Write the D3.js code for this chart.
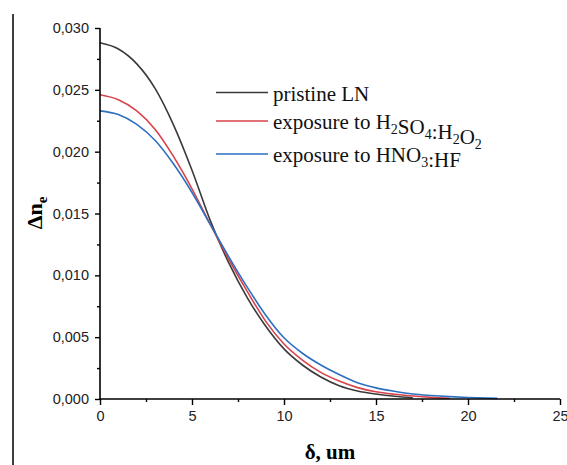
<!DOCTYPE html>
<html><head><meta charset="utf-8">
<script src="https://cdn.jsdelivr.net/npm/d3@7"></script>
<style>body{margin:0;background:#fff}svg{display:block}</style>
</head><body>
<script>
// depth δ (um) and Δn_e values
const xBlack = [0,1,2,3,4,5,6,7,8,9,10,11,12,13,14,15,16,17];
const yBlack = [0.0288,0.0283,0.0271,0.0251,0.02215,0.0185,0.0144,0.0110,0.0082,0.0059,0.00405,0.00275,0.00178,0.00108,0.00065,0.0004,0.00022,0.0001];
const xRed = [0,1,2,3,4,5,6,7,8,9,10,11,12,13,14,15,16,17,18,19];
const yRed = [0.0246,0.0242,0.0233,0.0218,0.0196,0.0170,0.0141,0.0113,0.0087,0.0063,0.00445,0.00315,0.00215,0.00145,0.00092,0.00058,0.00038,0.00024,0.00013,0.00006];
const xBlue = [0,1,2,3,4,5,6,7,8,9,10,11,12,13,14,15,16,17,18,19,20,21,21.6];
const yBlue = [0.0233,0.0230,0.0222,0.0209,0.0190,0.0167,0.0141,0.0115,0.00905,0.0068,0.00495,0.0037,0.00275,0.00198,0.00132,0.0009,0.00062,0.0004,0.00028,0.00019,0.00012,0.00007,0.00005];
const seriesNames = ["pristine LN", "exposure to H2SO4:H2O2", "exposure to HNO3:HF"];
const xTicks = [0,5,10,15,20,25];
const yTicks = [0,0.005,0.010,0.015,0.020,0.025,0.030];
const xMinor = [2.5,7.5,12.5,17.5,22.5];
const yMinor = [0.0025,0.0075,0.0125,0.0175,0.0225,0.0275];

const W = 567, H = 465;
const svg = d3.select("body").append("svg").attr("width", W).attr("height", H);
const x = d3.scaleLinear().domain([0,25]).range([100,560]);
const y = d3.scaleLinear().domain([0,0.030]).range([399,28]);

// figure border line
svg.append("line").attr("x1",13).attr("x2",13).attr("y1",14).attr("y2",465)
  .attr("stroke","#000").attr("stroke-width",1.5);

const colors = ["#3a3a3a", "#d8424b", "#2d6fc0"];
const data = [d3.zip(xBlack, yBlack), d3.zip(xRed, yRed), d3.zip(xBlue, yBlue)];
const line = d3.line().x(d=>x(d[0])).y(d=>y(d[1])).curve(d3.curveMonotoneX);
data.forEach((d,i)=>{
  svg.append("path").datum(d).attr("d", line).attr("fill","none")
    .attr("stroke", colors[i]).attr("stroke-width", 1.6);
});

const fmt = v => d3.format(".3f")(v).replace(".", ",");
const sans = "Liberation Sans, Arial, sans-serif";
const serif = "Liberation Serif, Times New Roman, serif";
// y axis
const yAxis = svg.append("g").attr("transform","translate(100,0)")
  .call(d3.axisLeft(y).tickValues(yTicks).tickFormat(fmt).tickSize(5).tickPadding(6));
svg.append("g").attr("class","minor").attr("transform","translate(100,0)")
  .call(d3.axisLeft(y).tickValues(yMinor).tickFormat("").tickSize(3))
  .select(".domain").remove();
// x axis
const xAxis = svg.append("g").attr("transform","translate(0,399)")
  .call(d3.axisBottom(x).tickValues(xTicks).tickFormat(d=>d).tickSize(6).tickPadding(6));
svg.append("g").attr("class","minor").attr("transform","translate(0,399)")
  .call(d3.axisBottom(x).tickValues(xMinor).tickFormat("").tickSize(3))
  .select(".domain").remove();

svg.selectAll(".domain").attr("stroke","#000").attr("stroke-width",1.6);
svg.selectAll(".tick line").attr("stroke","#000").attr("stroke-width",1.4);
svg.selectAll(".tick text").attr("font-family",sans)
  .attr("font-size",14.5).attr("fill","#222");
yAxis.select(".domain").attr("d","M0,399.8V28");
xAxis.select(".domain").attr("d","M99.2,0H560");

// axis titles
svg.append("text").attr("x",330).attr("y",459).attr("text-anchor","middle")
  .attr("font-family",serif).attr("font-weight","bold")
  .attr("font-size",21).text("δ, um");
const yt = svg.append("text").attr("transform","translate(42,213) rotate(-90)")
  .attr("text-anchor","middle")
  .attr("font-family",serif).attr("font-weight","bold")
  .attr("font-size",22);
yt.append("tspan").text("Δn");
yt.append("tspan").attr("dy",5).attr("font-size",15).text("e");

// legend
const legY = [92.5, 121, 154];
const leg = svg.append("g");
legY.forEach((ly,i)=>{
  leg.append("line").attr("x1",216).attr("x2",268).attr("y1",ly).attr("y2",ly)
    .attr("stroke",colors[i]).attr("stroke-width",1.6);
});
function addText(ly, parts){
  const t = leg.append("text").attr("x",273).attr("y",ly+8)
    .attr("font-family",serif).attr("font-size",21).attr("fill","#111");
  parts.forEach(p=>{
    if (typeof p === "string") t.append("tspan").text(p);
    else {
      t.append("tspan").attr("dy",5).attr("font-size",14).text(p.sub);
      t.append("tspan").attr("dy",-5).text("");
    }
  });
}
addText(legY[0], [seriesNames[0]]);
addText(legY[1], ["exposure to H",{sub:"2"},"SO",{sub:"4"},":H",{sub:"2"},"O",{sub:"2"}]);
addText(legY[2], ["exposure to HNO",{sub:"3"},":HF"]);
</script>
</body></html>
